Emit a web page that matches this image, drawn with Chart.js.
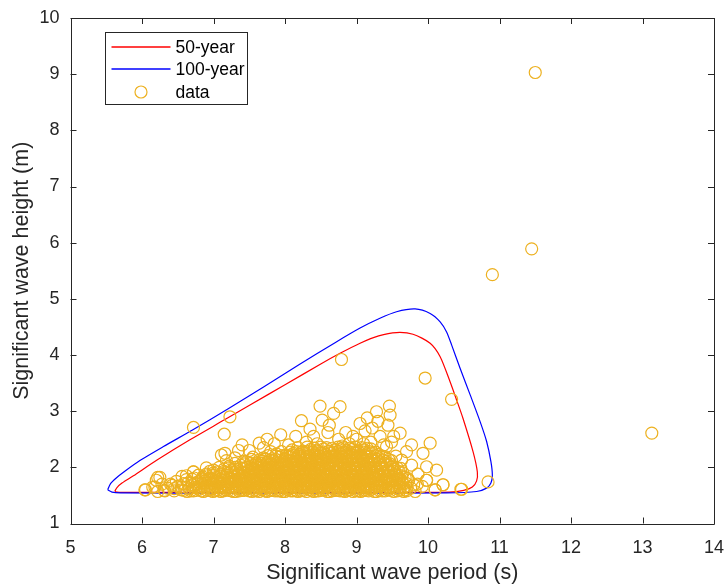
<!DOCTYPE html>
<html>
<head>
<meta charset="utf-8">
<script src="https://cdn.jsdelivr.net/npm/chart.js@4/dist/chart.umd.min.js"></script>
<style>
  html, body { margin: 0; padding: 0; background: #fff; }
  canvas { display: block; }
</style>
</head>
<body>
<canvas id="myChart" width="726" height="588"></canvas>
<script>
// --- Axes ---
const xTicks = [5, 6, 7, 8, 9, 10, 11, 12, 13, 14];
const yTicks = [1, 2, 3, 4, 5, 6, 7, 8, 9, 10];
const xTitle = 'Significant wave period (s)';
const yTitle = 'Significant wave height (m)';

// --- Contours [period, height] ---
const contour50 = [
    [5.62, 1.575], [5.65, 1.64], [5.72, 1.72], [5.88, 1.85], [6.21, 2.13], [6.67, 2.49],
    [7.16, 2.85], [7.51, 3.11], [8.00, 3.47], [8.50, 3.84], [8.77, 4.03], [9.05, 4.21],
    [9.31, 4.34], [9.56, 4.40], [9.79, 4.37], [10.03, 4.21], [10.17, 3.97], [10.31, 3.52],
    [10.40, 3.20], [10.49, 2.87], [10.63, 2.28], [10.69, 1.92], [10.68, 1.76], [10.62, 1.65],
    [10.50, 1.59], [10.30, 1.56], [9.00, 1.555], [7.00, 1.555], [5.72, 1.555], [5.65, 1.56],
    [5.62, 1.575]
];
const contour100 = [
    [5.52, 1.60], [5.56, 1.71], [5.64, 1.81], [5.75, 1.92], [5.97, 2.12], [6.30, 2.37],
    [6.70, 2.66], [7.20, 3.04], [7.70, 3.43], [8.20, 3.83], [8.70, 4.22], [9.05, 4.48],
    [9.32, 4.65], [9.56, 4.77], [9.82, 4.82], [10.03, 4.74], [10.17, 4.59], [10.26, 4.41],
    [10.33, 4.18], [10.45, 3.76], [10.59, 3.29], [10.73, 2.81], [10.82, 2.46], [10.88, 2.10],
    [10.90, 1.86], [10.88, 1.72], [10.82, 1.63], [10.68, 1.57], [10.26, 1.545], [9.00, 1.54],
    [7.00, 1.54], [5.70, 1.545], [5.58, 1.56], [5.52, 1.60]
];

// --- Observations [period, height] ---
const obsCore = [
    [6.05,1.60],[6.22,1.57],[6.31,1.59],[6.45,1.58],[6.55,1.60],[6.63,1.57],[6.72,1.58],[6.80,1.61],[6.86,1.57],[6.95,1.59],
    [7.02,1.58],[7.10,1.57],[7.17,1.60],[7.25,1.58],[7.31,1.57],[7.40,1.59],[7.46,1.61],[7.54,1.57],[7.60,1.58],[7.68,1.60],
    [7.75,1.57],[7.82,1.59],[7.90,1.58],[7.96,1.57],[8.04,1.60],[8.11,1.58],[8.18,1.57],[8.26,1.59],[8.33,1.61],[8.40,1.57],
    [8.47,1.58],[8.55,1.60],[8.62,1.57],[8.70,1.59],[8.77,1.58],[8.84,1.57],[8.91,1.60],[8.99,1.58],[9.06,1.57],[9.13,1.59],
    [9.21,1.61],[9.28,1.57],[9.36,1.58],[9.44,1.60],[9.52,1.57],[9.61,1.59],[9.70,1.58],[9.82,1.57],[10.10,1.60],[10.46,1.61],

    [6.15,1.65],[6.36,1.63],[6.50,1.66],[6.66,1.62],[6.76,1.64],[6.90,1.65],[6.98,1.62],[7.06,1.64],[7.14,1.66],[7.21,1.63],
    [7.28,1.65],[7.36,1.62],[7.43,1.64],[7.50,1.66],[7.57,1.63],[7.64,1.65],[7.71,1.62],[7.79,1.64],[7.86,1.66],[7.93,1.63],
    [8.00,1.65],[8.07,1.62],[8.15,1.64],[8.22,1.66],[8.29,1.63],[8.37,1.65],[8.44,1.62],[8.51,1.64],[8.58,1.66],[8.66,1.63],
    [8.73,1.65],[8.81,1.62],[8.88,1.64],[8.95,1.66],[9.02,1.63],[9.10,1.65],[9.17,1.62],[9.25,1.64],[9.33,1.66],[9.41,1.63],
    [9.49,1.65],[9.57,1.62],[9.66,1.64],[9.76,1.63],[9.92,1.66],

    [6.28,1.70],[6.42,1.68],[6.58,1.71],[6.70,1.69],[6.84,1.72],[6.93,1.68],[7.01,1.70],[7.08,1.72],[7.18,1.69],[7.24,1.71],
    [7.33,1.68],[7.39,1.70],[7.47,1.72],[7.53,1.69],[7.61,1.71],[7.67,1.68],[7.74,1.70],[7.81,1.72],[7.88,1.69],[7.95,1.71],
    [8.02,1.68],[8.09,1.70],[8.16,1.72],[8.24,1.69],[8.31,1.71],[8.38,1.68],[8.46,1.70],[8.53,1.72],[8.60,1.69],[8.68,1.71],
    [8.75,1.68],[8.83,1.70],[8.90,1.72],[8.97,1.69],[9.05,1.71],[9.12,1.68],[9.19,1.70],[9.27,1.72],[9.35,1.69],[9.43,1.71],
    [9.51,1.68],[9.60,1.70],[9.69,1.72],[9.80,1.69],[10.21,1.69],

    [6.20,1.77],[6.48,1.75],[6.62,1.78],[6.78,1.74],[6.88,1.76],[6.97,1.78],[7.05,1.75],[7.12,1.77],[7.20,1.74],[7.27,1.76],
    [7.35,1.78],[7.42,1.75],[7.49,1.77],[7.56,1.74],[7.63,1.76],[7.70,1.78],[7.77,1.75],[7.84,1.77],[7.91,1.74],[7.98,1.76],
    [8.05,1.78],[8.13,1.75],[8.20,1.77],[8.27,1.74],[8.35,1.76],[8.42,1.78],[8.49,1.75],[8.57,1.77],[8.64,1.74],[8.71,1.76],
    [8.79,1.78],[8.86,1.75],[8.93,1.77],[9.01,1.74],[9.08,1.76],[9.15,1.78],[9.23,1.75],[9.31,1.77],[9.39,1.74],[9.47,1.76],
    [9.55,1.78],[9.64,1.75],[9.73,1.77],[9.98,1.77],

    [6.25,1.82],[6.56,1.84],[6.73,1.81],[6.85,1.83],[6.96,1.80],[7.04,1.82],[7.13,1.84],[7.22,1.81],[7.30,1.83],[7.37,1.80],
    [7.45,1.82],[7.52,1.84],[7.59,1.81],[7.66,1.83],[7.73,1.80],[7.80,1.82],[7.87,1.84],[7.94,1.81],[8.01,1.83],[8.08,1.80],
    [8.16,1.82],[8.23,1.84],[8.30,1.81],[8.38,1.83],[8.45,1.80],[8.52,1.82],[8.60,1.84],[8.67,1.81],[8.74,1.83],[8.82,1.80],
    [8.89,1.82],[8.96,1.84],[9.04,1.81],[9.11,1.83],[9.18,1.80],[9.26,1.82],[9.34,1.84],[9.42,1.81],[9.50,1.83],[9.59,1.80],
    [9.68,1.82],

    [6.72,1.92],[6.90,1.88],[7.00,1.90],[7.10,1.87],[7.19,1.89],[7.28,1.91],[7.36,1.88],[7.44,1.90],[7.51,1.87],[7.58,1.89],
    [7.65,1.91],[7.72,1.88],[7.79,1.90],[7.86,1.87],[7.93,1.89],[8.00,1.91],[8.07,1.88],[8.14,1.90],[8.21,1.87],[8.29,1.89],
    [8.36,1.91],[8.43,1.88],[8.50,1.90],[8.58,1.87],[8.65,1.89],[8.72,1.91],[8.80,1.88],[8.87,1.90],[8.94,1.87],[9.02,1.89],
    [9.09,1.91],[9.16,1.88],[9.24,1.90],[9.32,1.87],[9.40,1.89],[9.48,1.91],[9.56,1.88],[9.65,1.90],

    [7.00,1.95],[7.15,1.97],[7.26,1.94],[7.34,1.96],[7.42,1.98],[7.50,1.95],[7.57,1.97],[7.64,1.94],[7.71,1.96],[7.78,1.98],
    [7.85,1.95],[7.92,1.97],[7.99,1.94],[8.06,1.96],[8.13,1.98],[8.20,1.95],[8.27,1.97],[8.34,1.94],[8.41,1.96],[8.48,1.98],
    [8.56,1.95],[8.63,1.97],[8.70,1.94],[8.78,1.96],[8.85,1.98],[8.92,1.95],[8.99,1.97],[9.07,1.94],[9.14,1.96],[9.21,1.98],
    [9.29,1.95],[9.37,1.97],[9.45,1.94],[9.53,1.96],[9.62,1.98],

    [7.22,2.02],[7.38,2.04],[7.48,2.01],[7.55,2.03],[7.62,2.05],[7.70,2.02],[7.77,2.04],[7.84,2.01],[7.91,2.03],[7.98,2.05],
    [8.05,2.02],[8.12,2.04],[8.19,2.01],[8.26,2.03],[8.33,2.05],[8.40,2.02],[8.47,2.04],[8.54,2.01],[8.61,2.03],[8.68,2.05],
    [8.76,2.02],[8.83,2.04],[8.90,2.01],[8.97,2.03],[9.05,2.05],[9.12,2.02],[9.19,2.04],[9.27,2.01],[9.35,2.03],[9.43,2.05],
    [9.51,2.02],

    [7.46,2.10],[7.60,2.08],[7.68,2.11],[7.75,2.09],[7.83,2.12],[7.90,2.08],[7.97,2.10],[8.04,2.12],[8.11,2.09],[8.18,2.11],
    [8.25,2.08],[8.32,2.10],[8.39,2.12],[8.46,2.09],[8.53,2.11],[8.60,2.08],[8.67,2.10],[8.74,2.12],[8.81,2.09],[8.88,2.11],
    [8.96,2.08],[9.03,2.10],[9.10,2.12],[9.17,2.09],[9.25,2.11],[9.33,2.08],[9.41,2.10],[9.49,2.12],

    [7.70,2.17],[7.82,2.15],[7.92,2.18],[8.00,2.16],[8.08,2.19],[8.15,2.15],[8.22,2.17],[8.30,2.19],[8.37,2.16],[8.44,2.18],
    [8.51,2.15],[8.58,2.17],[8.65,2.19],[8.72,2.16],[8.79,2.18],[8.86,2.15],[8.94,2.17],[9.01,2.19],[9.08,2.16],[9.15,2.18],
    [9.23,2.15],[9.31,2.17],[9.40,2.19],

    [7.88,2.24],[8.02,2.22],[8.12,2.25],[8.20,2.23],[8.28,2.26],[8.35,2.22],[8.42,2.24],[8.50,2.26],[8.57,2.23],[8.64,2.25],
    [8.71,2.22],[8.78,2.24],[8.85,2.26],[8.92,2.23],[8.99,2.25],[9.06,2.22],[9.14,2.24],[9.22,2.26],[9.31,2.23],

    [8.10,2.31],[8.25,2.29],[8.36,2.32],[8.45,2.30],[8.54,2.33],[8.62,2.29],[8.70,2.31],[8.78,2.33],[8.86,2.30],[8.94,2.32],
    [9.02,2.29],[9.11,2.31],[9.20,2.33]
];

// seconde passe du nuage dense (entre les rangées)
const obsCoreFill = [
    [6.59,1.59],[6.68,1.58],[6.76,1.59],[6.83,1.58],[6.91,1.59],[6.99,1.57],[7.06,1.59],[7.14,1.58],[7.21,1.59],[7.28,1.57],
    [7.36,1.58],[7.43,1.59],[7.50,1.58],[7.57,1.59],[7.64,1.57],[7.72,1.58],[7.79,1.59],[7.86,1.58],[7.93,1.59],[8.00,1.57],
    [8.08,1.58],[8.15,1.59],[8.22,1.58],[8.30,1.57],[8.37,1.59],[8.44,1.58],[8.51,1.59],[8.59,1.57],[8.66,1.58],[8.74,1.59],
    [8.81,1.58],[8.88,1.59],[8.95,1.57],[9.03,1.58],[9.10,1.59],[9.17,1.58],[9.25,1.57],[9.32,1.59],[9.40,1.58],[9.48,1.59],
    [9.57,1.58],[9.66,1.57],

    [6.55,1.65],[6.72,1.64],[6.80,1.65],[6.87,1.64],[6.95,1.65],[7.02,1.64],[7.10,1.65],[7.17,1.64],[7.25,1.65],[7.32,1.64],
    [7.40,1.65],[7.47,1.64],[7.54,1.65],[7.61,1.64],[7.68,1.65],[7.75,1.64],[7.82,1.65],[7.90,1.64],[7.97,1.65],[8.04,1.64],
    [8.11,1.65],[8.18,1.64],[8.26,1.65],[8.33,1.64],[8.40,1.65],[8.48,1.64],[8.55,1.65],[8.62,1.64],[8.70,1.65],[8.77,1.64],
    [8.84,1.65],[8.91,1.64],[8.99,1.65],[9.06,1.64],[9.13,1.65],[9.21,1.64],[9.29,1.65],[9.37,1.64],[9.45,1.65],[9.53,1.64],
    [9.61,1.65],[9.71,1.64],

    [6.64,1.72],[6.77,1.71],[6.88,1.72],[6.97,1.71],[7.05,1.72],[7.13,1.71],[7.21,1.72],[7.29,1.71],[7.36,1.72],[7.43,1.71],
    [7.50,1.72],[7.57,1.71],[7.64,1.72],[7.71,1.71],[7.78,1.72],[7.85,1.71],[7.92,1.72],[7.99,1.71],[8.06,1.72],[8.13,1.71],
    [8.20,1.72],[8.28,1.71],[8.35,1.72],[8.42,1.71],[8.50,1.72],[8.57,1.71],[8.64,1.72],[8.72,1.71],[8.79,1.72],[8.87,1.71],
    [8.94,1.72],[9.01,1.71],[9.09,1.72],[9.16,1.71],[9.23,1.72],[9.31,1.71],[9.39,1.72],[9.47,1.71],[9.56,1.72],[9.65,1.71],

    [6.70,1.79],[6.83,1.78],[6.93,1.79],[7.01,1.78],[7.09,1.79],[7.16,1.78],[7.24,1.79],[7.31,1.78],[7.39,1.79],[7.46,1.78],
    [7.53,1.79],[7.60,1.78],[7.67,1.79],[7.74,1.78],[7.81,1.79],[7.88,1.78],[7.95,1.79],[8.02,1.78],[8.09,1.79],[8.17,1.78],
    [8.24,1.79],[8.31,1.78],[8.39,1.79],[8.46,1.78],[8.53,1.79],[8.61,1.78],[8.68,1.79],[8.75,1.78],[8.83,1.79],[8.90,1.78],
    [8.97,1.79],[9.05,1.78],[9.12,1.79],[9.19,1.78],[9.27,1.79],[9.35,1.78],[9.43,1.79],[9.51,1.78],[9.60,1.79],

    [6.79,1.86],[6.91,1.85],[7.00,1.86],[7.09,1.85],[7.18,1.86],[7.26,1.85],[7.34,1.86],[7.41,1.85],[7.49,1.86],[7.56,1.85],
    [7.63,1.86],[7.70,1.85],[7.77,1.86],[7.84,1.85],[7.91,1.86],[7.98,1.85],[8.05,1.86],[8.12,1.85],[8.20,1.86],[8.27,1.85],
    [8.34,1.86],[8.42,1.85],[8.49,1.86],[8.56,1.85],[8.64,1.86],[8.71,1.85],[8.78,1.86],[8.86,1.85],[8.93,1.86],[9.00,1.85],
    [9.08,1.86],[9.15,1.85],[9.22,1.86],[9.30,1.85],[9.38,1.86],[9.46,1.85],[9.55,1.86],[9.63,1.85],

    [6.95,1.93],[7.05,1.92],[7.15,1.93],[7.24,1.92],[7.32,1.93],[7.40,1.92],[7.48,1.93],[7.55,1.92],[7.62,1.93],[7.69,1.92],
    [7.76,1.93],[7.83,1.92],[7.90,1.93],[7.97,1.92],[8.04,1.93],[8.11,1.92],[8.18,1.93],[8.25,1.92],[8.33,1.93],[8.40,1.92],
    [8.47,1.93],[8.54,1.92],[8.62,1.93],[8.69,1.92],[8.76,1.93],[8.84,1.92],[8.91,1.93],[8.98,1.92],[9.06,1.93],[9.13,1.92],
    [9.20,1.93],[9.28,1.92],[9.36,1.93],[9.44,1.92],[9.52,1.93],[9.60,1.92],

    [7.08,2.00],[7.21,1.99],[7.30,2.00],[7.38,1.99],[7.46,2.00],[7.54,1.99],[7.61,2.00],[7.68,1.99],[7.75,2.00],[7.82,1.99],
    [7.89,2.00],[7.96,1.99],[8.03,2.00],[8.10,1.99],[8.17,2.00],[8.24,1.99],[8.31,2.00],[8.38,1.99],[8.45,2.00],[8.52,1.99],
    [8.60,2.00],[8.67,1.99],[8.74,2.00],[8.82,1.99],[8.89,2.00],[8.96,1.99],[9.03,2.00],[9.11,1.99],[9.18,2.00],[9.25,1.99],
    [9.33,2.00],[9.41,1.99],[9.49,2.00],[9.57,1.99],

    [7.30,2.07],[7.43,2.06],[7.52,2.07],[7.59,2.06],[7.66,2.07],[7.74,2.06],[7.81,2.07],[7.88,2.06],[7.95,2.07],[8.02,2.06],
    [8.09,2.07],[8.16,2.06],[8.23,2.07],[8.30,2.06],[8.37,2.07],[8.44,2.06],[8.51,2.07],[8.58,2.06],[8.65,2.07],[8.72,2.06],
    [8.80,2.07],[8.87,2.06],[8.94,2.07],[9.01,2.06],[9.09,2.07],[9.16,2.06],[9.23,2.07],[9.31,2.06],[9.39,2.07],[9.47,2.06],

    [7.53,2.14],[7.64,2.13],[7.72,2.14],[7.79,2.13],[7.87,2.14],[7.94,2.13],[8.01,2.14],[8.08,2.13],[8.15,2.14],[8.22,2.13],
    [8.29,2.14],[8.36,2.13],[8.43,2.14],[8.50,2.13],[8.57,2.14],[8.64,2.13],[8.71,2.14],[8.78,2.13],[8.85,2.14],[8.92,2.13],
    [9.00,2.14],[9.07,2.13],[9.14,2.14],[9.21,2.13],[9.29,2.14],[9.37,2.13],[9.45,2.14],

    [7.76,2.21],[7.87,2.20],[7.96,2.21],[8.04,2.20],[8.12,2.21],[8.19,2.20],[8.26,2.21],[8.34,2.20],[8.41,2.21],[8.48,2.20],
    [8.55,2.21],[8.62,2.20],[8.69,2.21],[8.76,2.20],[8.83,2.21],[8.90,2.20],[8.98,2.21],[9.05,2.20],[9.12,2.21],[9.19,2.20],
    [9.27,2.21],[9.36,2.20],

    [7.95,2.28],[8.07,2.27],[8.16,2.28],[8.24,2.27],[8.32,2.28],[8.39,2.27],[8.46,2.28],[8.54,2.27],[8.61,2.28],[8.68,2.27],
    [8.75,2.28],[8.82,2.27],[8.89,2.28],[8.96,2.27],[9.03,2.28],[9.10,2.27],[9.18,2.28],[9.27,2.27],

    [8.18,2.35],[8.31,2.36],[8.41,2.34],[8.50,2.36],[8.58,2.35],[8.66,2.34],[8.74,2.36],[8.82,2.35],[8.90,2.34],[8.98,2.36],
    [9.07,2.35],[9.15,2.34]
];

const obsSparse = [
    [6.04,1.60],[6.18,1.65],[6.22,1.82],[6.32,1.58],[6.40,1.70],[6.45,1.62],[6.62,1.85],[6.72,1.92],[6.85,1.80],[6.90,1.99],
    [6.72,2.71],[7.23,2.90],[7.15,2.59],[7.11,2.22],[7.18,2.12],[7.16,2.25],[7.30,2.17],[7.42,2.10],[7.35,2.30],
    [7.64,2.43],[7.94,2.58],[7.80,2.28],[7.55,2.18],[7.70,2.35],[8.23,2.83],[8.49,3.09],[8.77,3.08],[8.68,2.96],[8.52,2.84],
    [8.40,2.55],[8.60,2.62],[8.75,2.50],[8.30,2.45],[8.05,2.40],[8.90,2.42],[9.05,2.78],[9.12,2.65],[9.28,2.99],[9.46,3.09],
    [9.47,2.93],[9.44,2.75],[9.33,2.55],[9.52,2.55],[9.61,2.61],[9.38,2.40],[9.49,2.45],[9.20,2.45],[9.00,2.50],[8.80,2.38],
    [9.42,2.37],[9.77,2.40],[10.03,2.43],[9.93,2.25],[9.77,2.04],[9.98,2.01],[10.12,1.95],[9.72,1.80],[9.98,1.77],[9.85,1.70],
    [10.10,1.60],[10.21,1.69],[10.47,1.61],[10.84,1.74],[9.68,1.60],[9.63,2.13],[9.55,2.20],[9.70,2.28],[9.86,1.88],
    [7.75,2.50],[7.85,2.42],[8.15,2.55],[8.35,2.68],[8.45,2.42],[8.62,2.75],[8.85,2.62],[8.95,2.55],[9.10,2.42],[9.22,2.70],
    [9.30,2.82],[9.15,2.88],[7.50,2.30],[7.40,2.40]
];

const obsOutliers = [
    [8.79,3.92],[9.96,3.59],[10.33,3.21],[13.13,2.61],[10.90,5.43],[11.45,5.89],[11.50,9.03]
];

const legendOrder = ['50-year', '100-year', 'data'];

const axisColor = '#262626';
const fontFamily = '"Liberation Sans", Arial, Helvetica, sans-serif';

// --- Cadre + graduations vers l'intérieur (style MATLAB) ---
const boxPlugin = {
    id: 'boxPlugin',
    afterDraw(chart) {
        const { ctx, chartArea: a, scales } = chart;
        const tl = 6;
        ctx.save();
        ctx.strokeStyle = axisColor;
        ctx.lineWidth = 1;
        ctx.beginPath();
        ctx.rect(Math.round(a.left) + 0.5, Math.round(a.top) + 0.5,
                 Math.round(a.right) - Math.round(a.left), Math.round(a.bottom) - Math.round(a.top));
        xTicks.forEach(v => {
            const px = Math.round(scales.x.getPixelForValue(v)) + 0.5;
            ctx.moveTo(px, a.bottom); ctx.lineTo(px, a.bottom - tl);
            ctx.moveTo(px, a.top); ctx.lineTo(px, a.top + tl);
        });
        yTicks.forEach(v => {
            const py = Math.round(scales.y.getPixelForValue(v)) + 0.5;
            ctx.moveTo(a.left, py); ctx.lineTo(a.left + tl, py);
            ctx.moveTo(a.right, py); ctx.lineTo(a.right - tl, py);
        });
        ctx.stroke();
        ctx.restore();
    }
};

// --- Légende encadrée ---
const legendPlugin = {
    id: 'legendPlugin',
    afterDraw(chart) {
        const { ctx, chartArea: a } = chart;
        const x0 = Math.round(a.left + 34) + 0.5;
        const y0 = Math.round(a.top + 14) + 0.5;
        const w = 142, h = 72;
        ctx.save();
        ctx.fillStyle = '#fff';
        ctx.fillRect(x0, y0, w, h);
        ctx.strokeStyle = axisColor;
        ctx.lineWidth = 1;
        ctx.strokeRect(x0, y0, w, h);
        ctx.font = '17.5px ' + fontFamily;
        ctx.textBaseline = 'middle';
        legendOrder.forEach((label, i) => {
            const ds = chart.data.datasets.find(d => d.label === label);
            const y = Math.round(y0 + 14 + i * 22.5);
            ctx.strokeStyle = ds.borderColor;
            ctx.lineWidth = ds.showLine ? 1.3 : 1.2;
            ctx.beginPath();
            if (ds.showLine) {
                ctx.moveTo(x0 + 6, y); ctx.lineTo(x0 + 65, y);
            } else {
                ctx.arc(x0 + 35.5, y, 6, 0, Math.PI * 2);
            }
            ctx.stroke();
            ctx.fillStyle = '#000';
            ctx.fillText(label, x0 + 70, y + 1);
        });
        ctx.restore();
    }
};

const toPoints = arr => arr.map(p => ({ x: p[0], y: p[1] }));

const ctx = document.getElementById('myChart').getContext('2d');
new Chart(ctx, {
    type: 'scatter',
    data: {
        datasets: [
            {
                label: 'data',
                data: toPoints(obsCore.concat(obsCoreFill, obsSparse, obsOutliers)),
                borderColor: '#EDB120',
                backgroundColor: 'rgba(0,0,0,0)',
                pointRadius: 6,
                pointBorderWidth: 1.2,
                showLine: false,
                order: 0
            },
            {
                label: '100-year',
                data: toPoints(contour100),
                borderColor: '#0000FF',
                borderWidth: 1.2,
                pointRadius: 0,
                showLine: true,
                tension: 0.25,
                order: 1
            },
            {
                label: '50-year',
                data: toPoints(contour50),
                borderColor: '#FF0000',
                borderWidth: 1.2,
                pointRadius: 0,
                showLine: true,
                tension: 0.25,
                order: 2
            }
        ]
    },
    options: {
        responsive: false,
        animation: false,
        layout: { padding: { top: 18, right: 12, left: 0, bottom: 0 } },
        scales: {
            x: {
                type: 'linear',
                min: 5, max: 14,
                afterBuildTicks: s => { s.ticks = xTicks.map(v => ({ value: v })); },
                afterFit: s => { s.height = 64.5; s.paddingLeft = 0; s.paddingRight = 0; },
                ticks: { color: axisColor, font: { family: fontFamily, size: 18 }, padding: 14, autoSkip: false, maxRotation: 0 },
                grid: { display: false, drawTicks: false },
                border: { display: false },
                title: { display: true, text: xTitle, color: axisColor, font: { family: fontFamily, size: 21.5 }, padding: { top: 0, bottom: 2 } }
            },
            y: {
                type: 'linear',
                min: 1, max: 10,
                afterBuildTicks: s => { s.ticks = yTicks.map(v => ({ value: v })); },
                afterFit: s => { s.width = 70.5; s.paddingTop = 0; s.paddingBottom = 0; },
                ticks: { color: axisColor, font: { family: fontFamily, size: 18 }, padding: 11, autoSkip: false },
                grid: { display: false, drawTicks: false },
                border: { display: false },
                title: { display: true, text: yTitle, color: axisColor, font: { family: fontFamily, size: 21.5 }, padding: { top: 9, bottom: 0 } }
            }
        },
        plugins: {
            legend: { display: false },
            tooltip: { enabled: false }
        }
    },
    plugins: [boxPlugin, legendPlugin]
});
</script>
</body>
</html>
